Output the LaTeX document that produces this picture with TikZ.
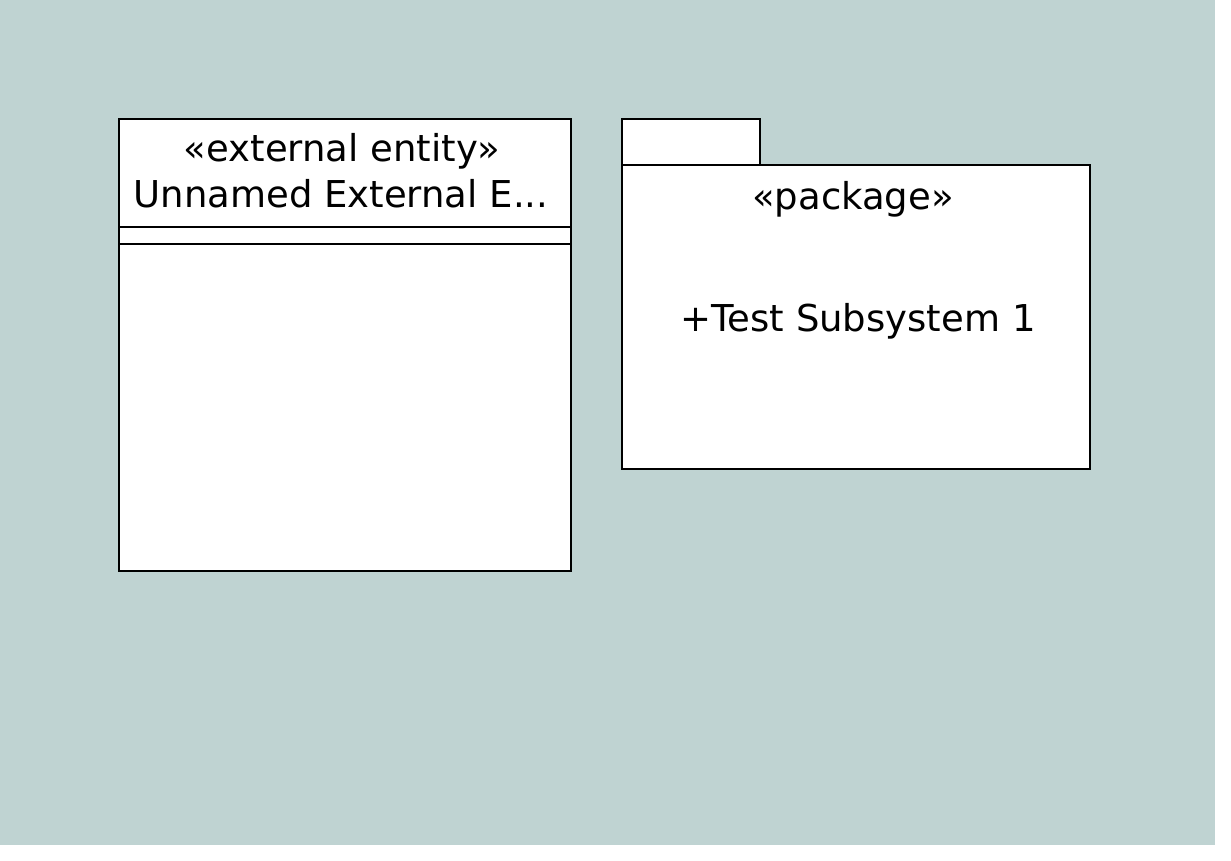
\documentclass[tikz,border=0pt]{standalone}
\usepackage{fontspec}
\setmainfont{DejaVu Sans}
\usetikzlibrary{positioning}
\definecolor{bgcol}{RGB}{191,211,210}

\begin{document}
\begin{tikzpicture}[x=1pt,y=-1pt,
box/.style={draw,fill=white,line width=2pt,inner sep=0pt,outer sep=0pt,anchor=north west},
lbl/.style={inner sep=0pt,font=\fontsize{37}{43}\selectfont}]
\useasboundingbox (0,0) rectangle (1231,861);
\fill[bgcol] (0,0) rectangle (1215,845);
% external entity
\node[box,minimum width=452,minimum height=452] (ent) at (119,119) {};
\draw[line width=2pt] (119,227) -- (571,227)
(119,244) -- (571,244);
\node[lbl] (entst) at (342,151) {«external entity»};
\node[lbl] (entname) at (341,194) {Unnamed External E...};
% package
\node[box,minimum width=138,minimum height=46] (tab) at (622,119) {};
\node[box,minimum width=468,minimum height=304] (pkg) at (622,165) {};
\node[lbl] (pkgst) at (853,199) {«package»};
\node[lbl] (pkgitem) at (858,321) {+Test Subsystem 1};
\end{tikzpicture}
\end{document}
